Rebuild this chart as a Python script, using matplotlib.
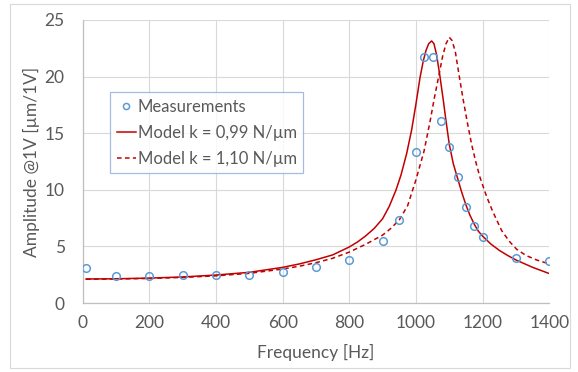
import matplotlib
matplotlib.use("Agg")
import matplotlib.pyplot as plt
from matplotlib.patches import Rectangle

# measured amplitudes
meas_f = [10, 100, 200, 300, 400, 500, 600, 700, 800, 900, 950, 1000, 1025, 1050,
          1075, 1100, 1125, 1150, 1175, 1200, 1300, 1400]
meas_a = [3.12, 2.36, 2.39, 2.47, 2.45, 2.47, 2.76, 3.21, 3.77, 5.45, 7.30, 13.37, 21.76, 21.76,
          16.08, 13.78, 11.10, 8.51, 6.80, 5.83, 3.95, 3.71]

# model k = 0,99 N/um
m1_f = [10, 100, 200, 300, 400, 500, 600, 650, 700, 750, 800, 825, 850, 875, 900, 920,
        940, 955, 972, 987, 1000, 1012, 1022, 1030, 1038, 1047, 1054, 1062, 1072, 1082,
        1090, 1100, 1112, 1125, 1137, 1150, 1162, 1175, 1187, 1200, 1225, 1250, 1275,
        1300, 1350, 1400]
m1_a = [2.12, 2.14, 2.20, 2.30, 2.47, 2.71, 3.15, 3.45, 3.82, 4.25, 4.95, 5.4, 5.95, 6.6,
        7.45, 8.55, 9.98, 11.3, 13.2, 15.3, 17.6, 19.9, 21.4, 22.3, 22.9, 23.15, 22.9, 21.9,
        20.0, 17.9, 16.1, 14.0, 12.3, 11.0, 9.8, 8.65, 7.75, 6.95, 6.35, 5.9, 5.2, 4.65, 4.2,
        3.8, 3.15, 2.6]

# model k = 1,10 N/um
m2_f = [10, 100, 200, 300, 400, 500, 600, 650, 700, 750, 800, 850, 900, 925, 950, 975,
        1000, 1024, 1042, 1055, 1070, 1080, 1090, 1100, 1108, 1118, 1130, 1142, 1155,
        1167, 1180, 1192, 1212, 1230, 1257, 1280, 1302, 1330, 1362, 1400]
m2_a = [2.10, 2.12, 2.17, 2.26, 2.40, 2.62, 3.00, 3.25, 3.56, 3.95, 4.50, 5.2, 6.0, 6.6,
        7.35, 8.6, 10.9, 13.4, 16.0, 18.1, 20.3, 21.8, 22.9, 23.47, 23.2, 22.2, 20.0, 17.9,
        15.8, 14.0, 12.4, 11.1, 9.4, 8.1, 6.4, 5.45, 4.75, 4.2, 3.8, 3.45]

plt.rcParams["font.family"] = ["Lato", "DejaVu Sans"]
txt = "#595959"

fig = plt.figure(figsize=(5.78, 3.72), dpi=100)
# light chart-area border
fig.patches.append(Rectangle((10/578, 4/372), 560/578, 364/372, transform=fig.transFigure,
                             fill=False, edgecolor="#d9d9d9", linewidth=0.8))
ax = fig.add_axes([82.7/578, 1-303/372, 466.6/578, 283/372])

ax.plot(meas_f, meas_a, linestyle="none", marker="o", markersize=5.5, markerfacecolor="none",
        markeredgecolor="#5b9bd5", markeredgewidth=1.1, label="Measurements", zorder=4)
ax.plot(m1_f, m1_a, color="#c00000", linewidth=1.1, label="Model k = 0,99 N/µm", zorder=3)
ax.plot(m2_f, m2_a, color="#c00000", linewidth=1.1, linestyle=(0, (3, 2.2)),
        label="Model k = 1,10 N/µm", zorder=3)

ax.set_xlim(0, 1400)
ax.set_ylim(0, 25)
ax.set_xticks(range(0, 1401, 200))
ax.set_yticks(range(0, 26, 5))
ax.grid(color="#d9d9d9", linewidth=0.8)
ax.set_axisbelow(True)
for s in ["top", "right"]:
    ax.spines[s].set_visible(False)
for s in ["left", "bottom"]:
    ax.spines[s].set_color("#bfbfbf")
    ax.spines[s].set_linewidth(0.9)
ax.tick_params(length=0, labelsize=12.5, labelcolor=txt)
ax.tick_params(axis="y", pad=13)
ax.tick_params(axis="x", pad=9)
ax.set_xlabel("Frequency [Hz]", fontsize=12.5, color=txt, labelpad=9)
ax.set_ylabel("Amplitude @1V [µm/1V]", fontsize=12.5, color=txt, labelpad=3)

leg = ax.legend(loc="upper left", bbox_to_anchor=(110/578, 1-92/372),
                bbox_transform=fig.transFigure, fontsize=12, frameon=True, fancybox=False,
                handlelength=1.15, handletextpad=0.1, borderpad=0.4, labelspacing=0.6,
                borderaxespad=0, markerscale=0.8)
leg.get_frame().set_edgecolor("#8faadc")
leg.get_frame().set_linewidth(0.9)
for t in leg.get_texts():
    t.set_color(txt)

fig.savefig("out.png", dpi=100)
